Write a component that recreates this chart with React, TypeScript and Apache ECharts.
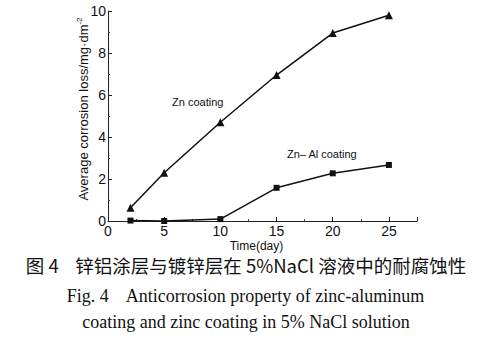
import React, { useEffect, useRef } from "react";
import * as echarts from "echarts";

const days = [2, 5, 10, 15, 20, 25];
const znCoating = [0.63, 2.3, 4.7, 6.95, 8.95, 9.8];
const znAlCoating = [0.02, 0.0, 0.09, 1.58, 2.27, 2.67];
const yTicks = [0, 2, 4, 6, 8, 10];
const xTicks = [0, 5, 10, 15, 20, 25];

const captionCn = "图 4    锌铝涂层与镀锌层在 5%NaCl 溶液中的耐腐蚀性";
const captionEn1 = "Fig. 4    Anticorrosion property of zinc-aluminum";
const captionEn2 = "coating and zinc coating in 5% NaCl solution";

export default function App() {
  const ref = useRef<HTMLDivElement>(null);
  useEffect(() => {
    document.body.style.margin = "0";
    const chart = echarts.init(ref.current!, null, { renderer: "svg" });
    const axisFont = { fontFamily: "Liberation Sans", fontSize: 14, lineHeight: 14, color: "#111" };
    chart.setOption({
      animation: false,
      backgroundColor: "#fff",
      grid: { left: 108, top: 11, right: 75, bottom: 128, containLabel: false },
      xAxis: {
        type: "value",
        min: 0,
        max: 27.5,
        interval: 5,
        name: "Time(day)",
        nameLocation: "middle",
        nameGap: 19,
        nameMoveOverlap: false,
        nameTextStyle: { fontFamily: "Liberation Sans", fontSize: 12, lineHeight: 12, color: "#111", padding: [0, 12, 0, 0] },
        axisLine: { lineStyle: { color: "#222", width: 1 } },
        axisTick: { inside: true, length: 4, lineStyle: { color: "#222" } },
        minorTick: { show: true, splitNumber: 2, length: 2, lineStyle: { color: "#444" } },
        splitLine: { show: false },
        axisLabel: {
          ...axisFont,
          margin: 3,
          formatter: (v: number) => (xTicks.includes(v) ? String(v) : ""),
        },
      },
      yAxis: {
        type: "value",
        min: 0,
        max: 10,
        interval: 2,
        name: "Average corrosion loss/mg·dm{sup|-2}",
        nameLocation: "middle",
        nameGap: 17,
        nameMoveOverlap: false,
        nameTextStyle: {
          fontFamily: "Liberation Sans",
          fontSize: 13,
          color: "#111",
          padding: [0, 0, 0, 14],
          rich: { sup: { fontSize: 8, verticalAlign: "top", padding: [0, 0, 8, 0], fontFamily: "Liberation Sans", color: "#111" } },
        },
        axisLine: { show: true, lineStyle: { color: "#222", width: 1 } },
        axisTick: { show: true, inside: true, length: 4, lineStyle: { color: "#222" } },
        minorTick: { show: true, splitNumber: 2, length: 2, lineStyle: { color: "#444" } },
        splitLine: { show: false },
        axisLabel: {
          ...axisFont,
          margin: 2,
          formatter: (v: number) => (yTicks.includes(v) ? String(v) : ""),
        },
      },
      series: [
        {
          name: "Zn coating",
          type: "line",
          data: days.map((d, i) => [d, znCoating[i]]),
          symbol: "triangle",
          symbolSize: 8,
          lineStyle: { color: "#111", width: 1.5 },
          itemStyle: { color: "#111" },
        },
        {
          name: "Zn-Al coating",
          type: "line",
          data: days.map((d, i) => [d, znAlCoating[i]]),
          symbol: "rect",
          symbolSize: 6,
          lineStyle: { color: "#111", width: 1.5 },
          itemStyle: { color: "#111" },
        },
      ],
      graphic: [
        { type: "text", left: 172, top: 96, style: { text: "Zn coating", font: "11px 'Liberation Sans'", fill: "#111" } },
        { type: "text", left: 287, top: 148, style: { text: "Zn– Al coating", font: "11px 'Liberation Sans'", fill: "#111" } },
        { type: "text", left: "center", top: 256, style: { text: captionCn, font: "18.5px 'Noto Sans CJK SC'", fill: "#111" } },
        { type: "text", left: "center", top: 287, style: { text: captionEn1, font: "18px 'Liberation Serif'", fill: "#111" } },
        { type: "text", left: "center", top: 313, style: { text: captionEn2, font: "18px 'Liberation Serif'", fill: "#111" } },
      ],
    });
    return () => chart.dispose();
  }, []);
  return <div ref={ref} style={{ position: "absolute", left: 0, top: 0, width: 492, height: 349 }} />;
}
